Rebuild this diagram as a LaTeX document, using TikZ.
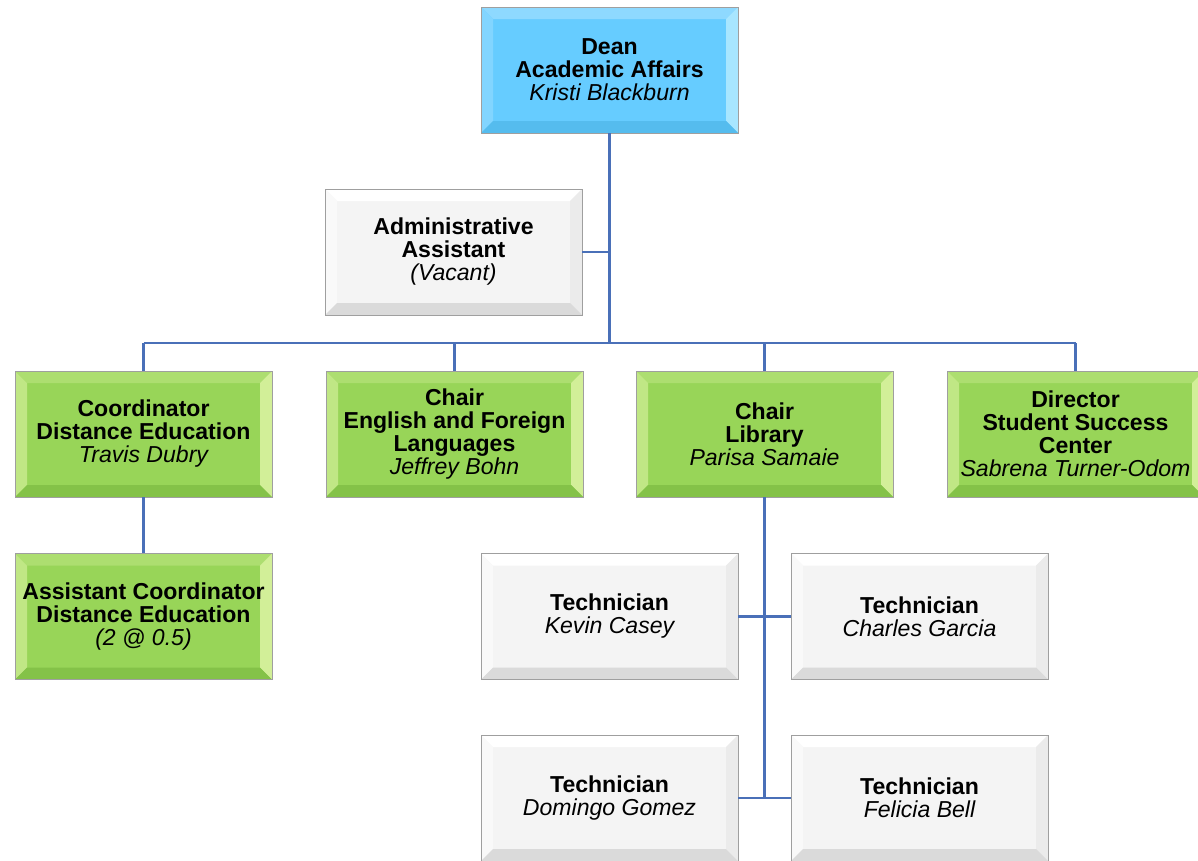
\documentclass[tikz,border=0pt]{standalone}
\usepackage{fontspec}
\setmainfont{Liberation Sans}
\definecolor{linec}{HTML}{4A70B8}
\definecolor{bbase}{HTML}{66CCFF}
\definecolor{btop}{HTML}{8ED9FF}
\definecolor{bleft}{HTML}{82D5FF}
\definecolor{bright}{HTML}{A8E6FF}
\definecolor{bbot}{HTML}{55BCEE}
\definecolor{gbase}{HTML}{98D558}
\definecolor{gtop}{HTML}{ADDE70}
\definecolor{gleft}{HTML}{C0E785}
\definecolor{gright}{HTML}{D2EF98}
\definecolor{gbot}{HTML}{84C248}
\definecolor{wbase}{HTML}{F4F4F4}
\definecolor{wtop}{HTML}{FFFFFF}
\definecolor{wleft}{HTML}{F9F9F9}
\definecolor{wright}{HTML}{EBEBEB}
\definecolor{wbot}{HTML}{DADADA}
\tikzset{
  orgbox/.style={draw=gray!75, line width=0.6pt, minimum width=192.75pt, minimum height=94.5pt,
    inner sep=0pt, align=center, font=\fontsize{17.3}{17.25}\selectfont, fill=#1base,
    path picture={
      \coordinate (pnw) at (path picture bounding box.north west);
      \coordinate (pne) at (path picture bounding box.north east);
      \coordinate (psw) at (path picture bounding box.south west);
      \coordinate (pse) at (path picture bounding box.south east);
      \fill[#1top] (pnw) -- (pne) -- ([xshift=-9pt,yshift=-9pt]pne) -- ([xshift=9pt,yshift=-9pt]pnw) -- cycle;
      \fill[#1left] (pnw) -- (psw) -- ([xshift=9pt,yshift=9pt]psw) -- ([xshift=9pt,yshift=-9pt]pnw) -- cycle;
      \fill[#1right] (pne) -- (pse) -- ([xshift=-9pt,yshift=9pt]pse) -- ([xshift=-9pt,yshift=-9pt]pne) -- cycle;
      \fill[#1bot] (psw) -- (pse) -- ([xshift=-9pt,yshift=9pt]pse) -- ([xshift=9pt,yshift=9pt]psw) -- cycle;
    }},
  conn/.style={draw=linec, line width=1.9pt}
}
\newcommand{\nm}[1]{{\normalfont\itshape #1}}
\begin{document}
\begin{tikzpicture}[x=0.75pt,y=-0.75pt]
\useasboundingbox (0,0) rectangle (1198,860);
\clip (0,0) rectangle (1198,860);
\fill[white] (0,0) rectangle (1198,860);
\coordinate (bus) at (609.5,343);
\node[orgbox=b] (dean) at (609.5,70) {\bfseries Dean\\\bfseries Academic Affairs\\\nm{Kristi Blackburn}};
\node[orgbox=w] (admin) at (453.5,252) {\bfseries Administrative\\\bfseries Assistant\\\nm{(Vacant)}};
\node[orgbox=g] (coord) at (143.5,434) {\bfseries Coordinator\\\bfseries Distance Education\\\nm{Travis Dubry}};
\node[orgbox=g] (eng) at (454.5,434) {\bfseries Chair\\\bfseries English and Foreign\\\bfseries Languages\\\nm{Jeffrey Bohn}};
\node[orgbox=g] (lib) at (764.5,434) {\bfseries Chair\\\bfseries Library\\\nm{Parisa Samaie}};
\node[orgbox=g] (dir) at (1075.5,434) {\bfseries Director\\\bfseries Student Success\\\bfseries Center\\\nm{Sabrena Turner-Odom}};
\node[orgbox=g] (asst) at (143.5,616.5) {\bfseries Assistant Coordinator\\\bfseries Distance Education\\\nm{(2 @ 0.5)}};
\node[orgbox=w] (t1) at (609.5,616.5) {\bfseries Technician\\\nm{Kevin Casey}};
\node[orgbox=w] (t2) at (919.5,616.5) {\bfseries Technician\\\nm{Charles Garcia}};
\node[orgbox=w] (t3) at (609.5,798) {\bfseries Technician\\\nm{Domingo Gomez}};
\node[orgbox=w] (t4) at (919.5,798) {\bfseries Technician\\\nm{Felicia Bell}};
\begin{scope}[conn]
\draw (dean.south) -- (bus);
\draw (admin.east) -- (admin.east -| bus);
\draw (coord.north |- bus) -- (dir.north |- bus);
\draw (coord.north) -- (coord.north |- bus);
\draw (eng.north) -- (eng.north |- bus);
\draw (lib.north) -- (lib.north |- bus);
\draw (dir.north) -- (dir.north |- bus);
\draw (coord.south) -- (asst.north);
\draw (lib.south) -- (lib.south |- t3.east);
\draw (t1.east) -- (t2.west);
\draw (t3.east) -- (t4.west);
\end{scope}
\end{tikzpicture}
\end{document}
